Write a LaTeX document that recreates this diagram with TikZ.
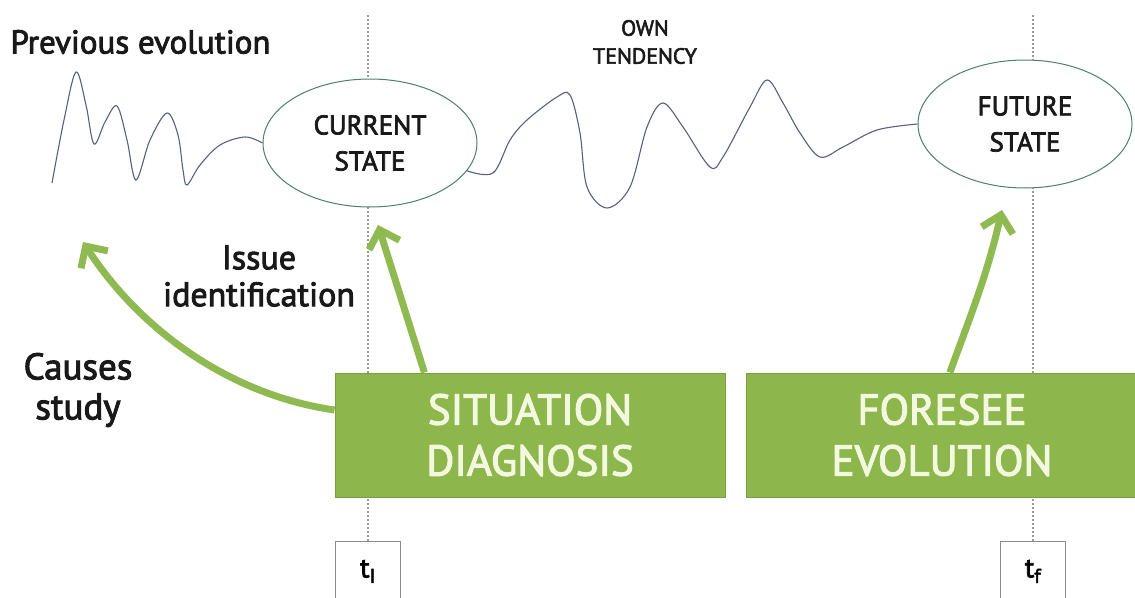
\documentclass[tikz,border=0pt]{standalone}
\usepackage{fontspec}
\setmainfont{PT Sans}
\newfontfamily\mediumfont{PT Sans}[FakeBold=2.6]
\usetikzlibrary{shapes.geometric,arrows.meta,calc}

\definecolor{boxgreen}{HTML}{8DB64C}
\definecolor{boxedge}{HTML}{7A9F40}
\definecolor{arrowgreen}{HTML}{8FBA52}
\definecolor{boxtext}{HTML}{F3F9DE}
\definecolor{ellipseedge}{HTML}{4F7F6E}
\definecolor{wave}{HTML}{56607F}
\definecolor{guide}{HTML}{9A9A9A}

\tikzset{
  statenode/.style={ellipse, draw=ellipseedge, line width=1pt, fill=white,
    minimum width=214pt, minimum height=128pt, inner sep=0pt, align=center,
    font=\mediumfont\fontsize{27}{36}\selectfont, text=black!90},
  phasebox/.style={rectangle, draw=boxedge, line width=1pt, fill=boxgreen,
    minimum height=124pt, inner sep=0pt, align=center,
    font=\mediumfont\fontsize{43}{51}\selectfont, text=boxtext},
  timebox/.style={rectangle, draw=black!45, line width=0.8pt, fill=white,
    minimum width=65pt, minimum height=60pt, anchor=north,
    font=\mediumfont\fontsize{28}{30}\selectfont},
  label/.style={align=center, text=black!90},
  guideline/.style={guide, line width=2pt, dash pattern=on 1.6pt off 2.4pt},
  wavepath/.style={wave, line width=1.1pt},
  bigarrow/.style={arrowgreen, line width=7pt,
    -{Straight Barb[length=16pt,width=32pt]}}
}

\begin{document}
\begin{tikzpicture}[x=1pt,y=-1pt]
\useasboundingbox (0,0) rectangle (1135,597);

% time guides
\coordinate (gi top) at (368,15);
\coordinate (gf top) at (1033,15);
\node[timebox] (ti) at (368,541) {t\textsubscript{\fontsize{20}{20}\selectfont I}};
\node[timebox] (tf) at (1033,541) {t\textsubscript{\fontsize{20}{20}\selectfont f}};
\draw[guideline] (gi top) -- (ti.north);
\draw[guideline] (gf top) -- (tf.north);

% states
\node[statenode] (cur) at (370,143) {CURRENT\\STATE};
\node[statenode] (fut) at (1025,124) {FUTURE\\STATE};

% previous evolution
\coordinate (prevstart) at (52,183);
\draw[wavepath] plot[smooth, tension=0.55] coordinates {
  (prevstart) (64,120) (76,72) (86,105) (94,144) (105,122) (117,106)
  (127,140) (136,180) (150,140) (167,113) (178,135) (183,170) (187,185)
  (200,165) (220,145) (245,137) (cur.west)};

% own tendency
\draw[wavepath] plot[smooth, tension=0.55] coordinates {
  (cur.-16) (493,173) (510,140) (527,120) (557,97) (570,95) (580,133)
  (587,187) (607,208) (630,187) (647,127) (663,103) (683,127) (710,167)
  (723,157) (750,107) (767,80) (783,103) (800,133) (820,157) (843,147)
  (877,130) (fut.west)};

% texts
\node[label, anchor=west, font=\mediumfont\fontsize{33}{34}\selectfont] (prevlbl) at (7,42) {Previous evolution};
\node[label, font=\mediumfont\fontsize{22}{28}\selectfont] (ownlbl) at (645,42) {OWN\\TENDENCY};
\node[label, font=\mediumfont\fontsize{34}{37}\selectfont] (issuelbl) at (259,276) {Issue\\identification};
\node[label, font=\mediumfont\fontsize{37}{40}\selectfont] (causeslbl) at (78,390) {Causes\\study};

% phases
\node[phasebox, minimum width=390pt] (sd) at (530,435) {SITUATION\\DIAGNOSIS};
\node[phasebox, minimum width=392pt] (fe) at (942,435) {FORESEE\\EVOLUTION};

% arrows
\coordinate (causestip) at (83,242);
\coordinate (issuetip) at (378,225);
\coordinate (futuretip) at (1002,210);
\draw[bigarrow] ($(sd.north west)!0.3!(sd.south west)$)
  .. controls (230,395) and (140,330) .. (causestip);
\draw[bigarrow] ($(sd.north west)!0.23!(sd.north east)$) -- (issuetip);
\draw[bigarrow] ($(fe.north west)!0.52!(fe.north east)$)
  to[out=70, in=-103] (futuretip);
\end{tikzpicture}
\end{document}
